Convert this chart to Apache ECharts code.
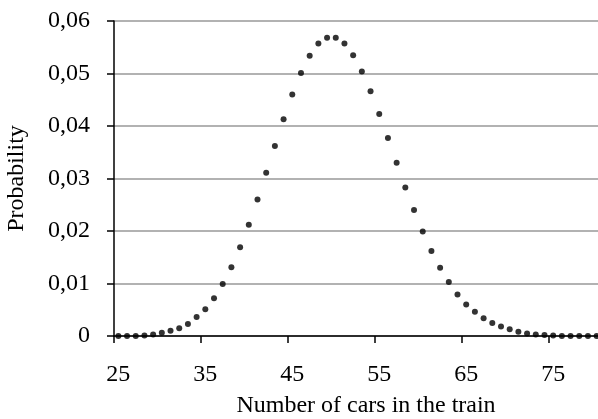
<!DOCTYPE html>
<html><head><meta charset="utf-8">
<script src="https://cdn.jsdelivr.net/npm/echarts@6/dist/echarts.min.js"></script>
<style>html,body{margin:0;padding:0;background:#fff}#c{width:598px;height:419px}</style>
</head><body><div id="c"></div>
<script>
var categories = [25,26,27,28,29,30,31,32,33,34,35,36,37,38,39,40,41,42,43,44,45,46,47,48,49,50,51,52,53,54,55,56,57,58,59,60,61,62,63,64,65,66,67,68,69,70,71,72,73,74,75,76,77,78,79,80];
var probability = [0.0000,0.0000,0.0000,0.0001,0.0003,0.0006,0.0010,0.0015,0.0023,0.0036,0.0051,0.0072,0.0099,0.0131,0.0169,0.0212,0.0260,0.0311,0.0362,0.0413,0.0460,0.0501,0.0534,0.0557,0.0568,0.0568,0.0557,0.0535,0.0504,0.0466,0.0423,0.0377,0.0330,0.0283,0.0240,0.0199,0.0162,0.0130,0.0103,0.0079,0.0060,0.0046,0.0034,0.0025,0.0018,0.0013,0.0008,0.0005,0.0003,0.0002,0.0001,0.0000,0.0000,0.0000,0.0000,0.0000];
var yTicks = [0,0.01,0.02,0.03,0.04,0.05,0.06];
var font = 'Liberation Serif';
var chart = echarts.init(document.getElementById('c'));
chart.setOption({
  animation:false,
  grid:{left:114, top:21, width:487, height:315, containLabel:false, outerBoundsMode:'none'},
  xAxis:{
    type:'category', data:categories.map(String), boundaryGap:true,
    name:'Number of cars in the train', nameLocation:'middle', nameGap:58,
    nameTextStyle:{fontFamily:font, fontSize:24, color:'#000', padding:[0,0,0,17]},
    axisLine:{lineStyle:{color:'#000', width:1.5}},
    axisTick:{show:true, interval:9, length:7, lineStyle:{color:'#000', width:1.5}},
    axisLabel:{interval:9, margin:27, fontFamily:font, fontSize:24, color:'#000'},
    splitLine:{show:false}
  },
  yAxis:{
    type:'value', min:0, max:0.06, interval:0.01,
    name:'Probability', nameLocation:'middle', nameGap:85,
    nameTextStyle:{fontFamily:font, fontSize:24, color:'#000'},
    axisLine:{show:true, lineStyle:{color:'#000', width:1.5}},
    axisTick:{show:true, length:7, lineStyle:{color:'#000', width:1.5}},
    axisLabel:{margin:24, fontFamily:font, fontSize:24, color:'#000',
      formatter:function(v){ return v===0 ? '0' : v.toFixed(2).replace('.', ','); }},
    splitLine:{show:true, lineStyle:{color:'#999', width:1.5}}
  },
  series:[{
    type:'scatter', data:probability, symbol:'circle', symbolSize:6,
    itemStyle:{color:'#000'}
  }]
});
</script></body></html>
